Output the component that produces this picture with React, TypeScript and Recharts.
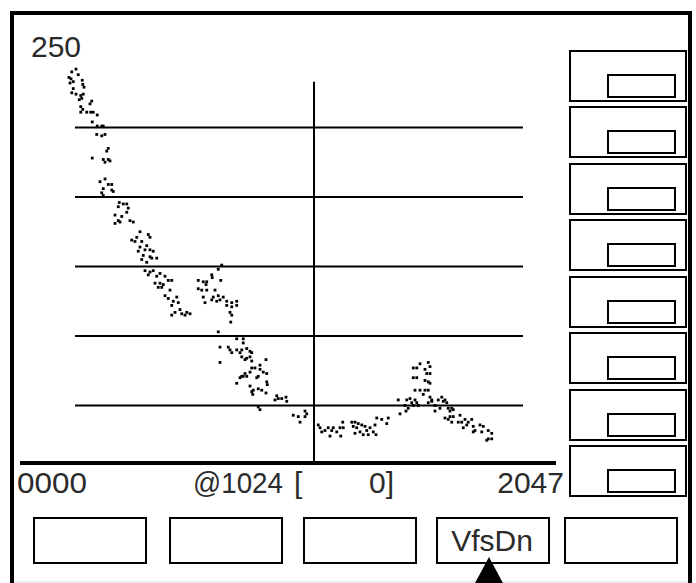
import React from 'react';
import { ScatterChart, Scatter, XAxis, YAxis, ReferenceLine } from 'recharts';

// Channel numbers (0..2047) of every plotted point
const channels = [
  72, 55, 81, 44, 52, 97, 61, 48, 99, 104,
  61, 55, 72, 91, 101, 85, 95, 135, 128, 91,
  99, 91, 115, 131, 141, 157, 137, 157, 175, 181,
  155, 175, 188, 201, 195, 137, 181, 201, 188, 208,
  188, 168, 201, 215, 181, 215, 221, 175, 181, 245,
  261, 275, 241, 281, 275, 228, 255, 288, 301, 241,
  228, 248, 328, 295, 315, 308, 361, 368, 335, 355,
  328, 368, 348, 321, 381, 341, 368, 395, 335, 355,
  375, 348, 368, 381, 361, 395, 408, 428, 441, 408,
  421, 401, 388, 415, 448, 455, 428, 441, 475, 461,
  481, 455, 488, 515, 468, 455, 495, 528, 508, 561,
  581, 595, 561, 575, 595, 581, 588, 655, 641, 615,
  617, 651, 592, 628, 621, 641, 661, 615, 635, 648,
  675, 695, 715, 675, 695, 715, 688, 695, 691, 641,
  715, 741, 741, 648, 681, 688, 695, 715, 735, 755,
  768, 775, 728, 735, 755, 768, 748, 648, 775, 832,
  808, 775, 788, 768, 748, 741, 728, 755, 735, 808,
  821, 801, 795, 835, 715, 768, 781, 801, 815, 835,
  837, 775, 779, 832, 875, 881, 868, 895, 912, 915,
  801, 808, 941, 961, 995, 988, 968, 988, 1041, 1048,
  1055, 1068, 1081, 1095, 1101, 1088, 1115, 1128, 1139, 1131,
  1141, 1175, 1188, 1201, 1181, 1195, 1215, 1228, 1235, 1208,
  1248, 1188, 1221, 1241, 1268, 1261, 1275, 1295, 1315, 1321,
  1272, 1368, 1361, 1395, 1392, 1401, 1388, 1408, 1428, 1435,
  1421, 1415, 1441, 1421, 1435, 1448, 1481, 1488, 1468, 1475,
  1488, 1421, 1435, 1468, 1481, 1488, 1428, 1448, 1468, 1481,
  1461, 1488, 1495, 1481, 1495, 1508, 1508, 1521, 1535, 1541,
  1548, 1555, 1528, 1561, 1568, 1581, 1575, 1548, 1561, 1568,
  1575, 1581, 1601, 1615, 1628, 1641, 1608, 1635, 1621, 1655,
  1661, 1668, 1688, 1701, 1695, 1661, 1721, 1735, 1721, 1735,
  1715,
];

// Counts of every plotted point (same order as channels)
const counts = [
  292, 290, 288, 286, 285, 284, 283, 282, 281, 279,
  278, 275, 274, 273, 274, 270, 271, 269, 267, 265,
  263, 261, 261, 261, 261, 259, 254, 251, 251, 251,
  245, 244, 245, 235, 233, 228, 227, 227, 225, 226,
  213, 211, 209, 209, 206, 205, 204, 203, 201, 196,
  195, 195, 193, 192, 189, 187, 186, 183, 182, 183,
  181, 182, 175, 169, 171, 168, 173, 171, 168, 165,
  164, 162, 162, 161, 161, 158, 157, 156, 155, 153,
  156, 147, 146, 147, 144, 143, 145, 143, 140, 138,
  137, 135, 138, 135, 133, 140, 129, 127, 128, 125,
  124, 122, 119, 117, 117, 115, 116, 116, 115, 140,
  139, 139, 134, 133, 133, 128, 124, 151, 148, 144,
  142, 140, 137, 133, 128, 129, 128, 126, 125, 126,
  125, 124, 125, 122, 121, 122, 117, 115, 110, 103,
  98, 98, 95, 92, 92, 90, 88, 90, 90, 91,
  89, 88, 88, 85, 84, 85, 83, 81, 82, 83,
  79, 77, 77, 74, 73, 71, 70, 71, 71, 76,
  74, 71, 70, 73, 66, 64, 61, 62, 61, 67,
  65, 60, 58, 59, 57, 55, 54, 55, 56, 53,
  49, 47, 43, 42, 44, 42, 38, 46, 36, 34,
  31, 32, 34, 32, 34, 28, 31, 34, 38, 28,
  34, 38, 38, 37, 35, 34, 36, 35, 32, 31,
  34, 30, 29, 29, 36, 31, 41, 40, 37, 41,
  29, 44, 54, 54, 46, 48, 50, 55, 54, 52,
  50, 52, 50, 77, 77, 80, 81, 78, 76, 73,
  73, 70, 70, 68, 67, 66, 61, 61, 61, 61,
  58, 56, 54, 52, 53, 50, 46, 54, 56, 53,
  54, 52, 48, 48, 46, 47, 48, 41, 40, 42,
  38, 42, 38, 38, 40, 38, 43, 36, 34, 40,
  35, 32, 36, 35, 31, 31, 32, 30, 26, 26,
  25,
];

const gridLevels = [50, 100, 150, 200, 250];
const cursorChannel = 1024;
const fullScaleLabel = '250';
const startLabel = '0000';
const endLabel = '2047';
const cursorPosLabel = '@1024';
const cursorOpen = '[';
const cursorValueLabel = '0]';
const softKeys = ['', '', '', 'VfsDn', ''];
const sideBoxCount = 8;

const data = channels.map((ch, i) => ({ ch, v: counts[i] }));

const FONT = '"Liberation Sans", Arial, sans-serif';
const W = 696;
const H = 583;

const Dot = (p: any) => (
  <rect x={p.cx - 1.4} y={p.cy - 1.4} width={2.8} height={2.8} fill="#000" />
);

const buttonLefts = [34, 170, 304, 437, 565];

export default function App() {
  const textStyle = { fontFamily: FONT, fontSize: 30, fill: '#2b2b2b' } as const;
  return (
    <div style={{ position: 'absolute', left: 0, top: 0, width: W, height: H, background: '#fff', overflow: 'hidden' }}>
      <svg width={W} height={H} style={{ position: 'absolute', left: 0, top: 0 }}>
        <rect x={12} y={13} width={678} height={620} fill="none" stroke="#000" strokeWidth={4} />
        <line x1={14} y1={582} x2={688} y2={582} stroke="#ddd" strokeWidth={1} />
        {Array.from({ length: sideBoxCount }, (_, i) => {
          const y = Math.round(50.5 + i * 56.5);
          return (
            <g key={i}>
              <rect x={570} y={y} width={116} height={50} fill="none" stroke="#000" strokeWidth={2} />
              <rect x={608} y={y + 24} width={67} height={22} fill="none" stroke="#000" strokeWidth={2} />
            </g>
          );
        })}
        {softKeys.map((k, i) => (
          <g key={i}>
            <rect x={buttonLefts[i]} y={518} width={112} height={45} fill="none" stroke="#000" strokeWidth={2} />
            {k ? (
              <text x={buttonLefts[i] + 55} y={551} textAnchor="middle" style={textStyle}>{k}</text>
            ) : null}
          </g>
        ))}
        <polygon points="489,557 474,585 504,585" fill="#000" />
        <text x={31} y={57} style={textStyle}>{fullScaleLabel}</text>
        <text x={17} y={493} style={textStyle} textLength={70} lengthAdjust="spacingAndGlyphs">{startLabel}</text>
        <text x={193} y={493} style={textStyle} textLength={90} lengthAdjust="spacingAndGlyphs">{cursorPosLabel}</text>
        <text x={294} y={493} style={textStyle}>{cursorOpen}</text>
        <text x={394} y={493} textAnchor="end" style={textStyle}>{cursorValueLabel}</text>
        <text x={564} y={493} textAnchor="end" style={textStyle}>{endLabel}</text>
      </svg>
      <div style={{ position: 'absolute', left: 0, top: 0 }}>
        <ScatterChart width={W} height={H} margin={{ top: 58, right: 126, bottom: 108, left: 58 }}>
          <XAxis dataKey="ch" type="number" domain={[0, 2048]} hide allowDataOverflow />
          <YAxis dataKey="v" type="number" domain={[0, 300]} hide allowDataOverflow />
          {gridLevels.map((g) => (
            <ReferenceLine
              key={g}
              segment={[{ x: 68, y: g }, { x: 1860, y: g }]}
              stroke="#000"
              strokeWidth={2}
              ifOverflow="visible"
            />
          ))}
          <ReferenceLine
            segment={[{ x: cursorChannel, y: 8.6 }, { x: cursorChannel, y: 283 }]}
            stroke="#000"
            strokeWidth={2}
            ifOverflow="visible"
          />
          <ReferenceLine
            segment={[{ x: -152, y: 8.6 }, { x: 1992, y: 8.6 }]}
            stroke="#000"
            strokeWidth={4}
            ifOverflow="visible"
          />
          <Scatter data={data} shape={Dot} isAnimationActive={false} />
        </ScatterChart>
      </div>
    </div>
  );
}
